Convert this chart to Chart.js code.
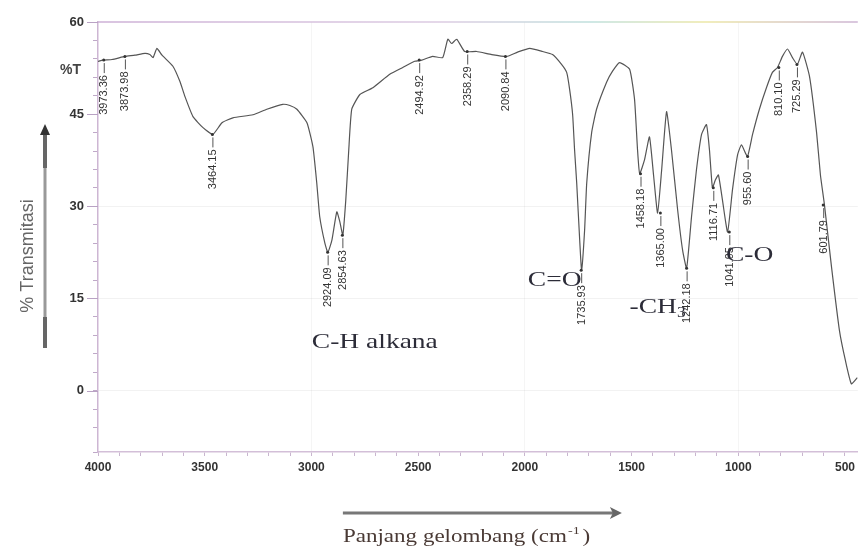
<!DOCTYPE html>
<html>
<head>
<meta charset="utf-8">
<script src="https://cdn.jsdelivr.net/npm/chart.js@4.4.0/dist/chart.umd.min.js"></script>
<style>
    html, body { margin: 0; padding: 0; background: #fff; }
    #wrap { width: 859px; height: 547px; }
</style>
</head>
<body>
<div id="wrap"><canvas id="ftir" width="859" height="547"></canvas></div>
<script>
// FTIR spectrum: wavenumber (cm-1) and %T
const wavenumbers = [
    4000, 3977, 3934, 3874, 3827, 3780, 3757, 3742, 3724, 3700,
    3649, 3616, 3593, 3555, 3508, 3462, 3419, 3368, 3274, 3209,
    3134, 3101, 3068, 3021, 2993, 2975, 2961, 2937, 2923, 2904,
    2881, 2867, 2853, 2839, 2825, 2811, 2773, 2712, 2633, 2572,
    2516, 2483, 2432, 2385, 2361, 2343, 2319, 2282, 2226, 2155,
    2085, 2034, 1977, 1917, 1870, 1828, 1804, 1790, 1776, 1767,
    1757, 1743, 1734, 1720, 1710, 1687, 1664, 1617, 1589, 1556,
    1509, 1486, 1472, 1462, 1439, 1416, 1397, 1378, 1359, 1336,
    1313, 1284, 1261, 1242, 1219, 1196, 1172, 1149, 1135, 1121,
    1107, 1093, 1074, 1050, 1027, 1003, 985, 957, 933, 901,
    868, 840, 816, 793, 769, 746, 723, 699, 666, 633,
    615, 596, 563, 526, 498, 470, 442
];
const transmittance = [
    53.6, 53.8, 53.9, 54.4, 54.6, 54.9, 54.7, 54.2, 55.7, 54.6,
    52.8, 50.3, 47.9, 44.6, 42.8, 41.7, 43.6, 44.4, 44.9, 45.8,
    46.6, 46.4, 45.8, 43.6, 39.7, 33.8, 28.3, 24.0, 22.5, 24.5,
    29.1, 27.5, 25.3, 31.0, 39.2, 45.8, 48.2, 49.3, 51.5, 52.6,
    53.6, 53.8, 54.4, 54.2, 57.2, 56.5, 57.2, 55.2, 55.2, 54.7,
    54.4, 55.1, 55.7, 55.2, 54.7, 53.1, 51.8, 49.0, 44.9, 39.2,
    33.8, 24.5, 19.6, 26.1, 33.8, 42.0, 45.8, 50.2, 52.0, 53.4,
    52.3, 47.4, 39.2, 35.3, 37.6, 41.3, 35.1, 28.9, 35.9, 45.4,
    39.2, 29.4, 22.9, 19.9, 28.3, 35.9, 41.7, 43.3, 39.2, 33.0,
    34.3, 35.1, 31.0, 25.8, 32.7, 38.4, 40.0, 38.1, 41.7, 45.8,
    49.3, 51.8, 52.6, 54.4, 55.6, 54.2, 53.1, 55.1, 51.1, 42.0,
    35.1, 30.2, 20.1, 9.8, 4.9, 1.1, 2.1
];

// peak labels printed along the spectrum
const peakLabels = [
    '3973.36', '3873.98', '3464.15', '2924.09', '2854.63', '2494.92',
    '2358.29', '2090.84', '1735.93', '1458.18', '1365.00', '1242.18',
    '1116.71', '1041.95', '955.60', '810.10', '725.29', '601.79'
];
const peakWavenumbers = [
    3973, 3874, 3464, 2924, 2855, 2495,
    2270, 2091, 1736, 1458, 1365, 1242,
    1117, 1042, 956, 810, 725, 602
];
const peakTransmittance = [
    53.8, 54.4, 41.7, 22.5, 25.3, 53.8,
    55.2, 54.4, 19.6, 35.3, 28.9, 19.9,
    33.0, 25.8, 38.1, 52.6, 53.1, 30.2
];

// band assignments written on the chart
const bandNames = ['C-H alkana', 'C=O', '-CH', 'C-O'];
const bandSubscripts = ['', '', '3', ''];
const bandWavenumbers = [2703, 1860, 1378, 947];
const bandTransmittance = [7.8, 18.0, 13.6, 22.0];

const xTickLabels = [4000, 3500, 3000, 2500, 2000, 1500, 1000, 500];
const yTickLabels = [0, 15, 30, 45, 60];

const xTitle = 'Panjang gelombang (cm';
const xTitleSup = '-1';
const yTitle = '% Transmitasi';
const yUnit = '%T';

const serif = '"Liberation Serif", "DejaVu Serif", serif';
const sans = '"Liberation Sans", Arial, sans-serif';

// peak labels, band names, titles and arrows
const decorPlugin = {
    id: 'decor',
    afterDatasetsDraw(chart) {
        const ctx = chart.ctx;
        const xs = chart.scales.x;
        const ys = chart.scales.y;
        const area = chart.chartArea;

        // coloured top frame
        const grad = ctx.createLinearGradient(area.left, 0, area.right, 0);
        grad.addColorStop(0, '#cdb0d6');
        grad.addColorStop(0.45, '#dccbe2');
        grad.addColorStop(0.65, '#bfe0dc');
        grad.addColorStop(0.8, '#ece7a6');
        grad.addColorStop(1, '#cdb4d4');
        ctx.save();
        ctx.strokeStyle = grad;
        ctx.lineWidth = 1.5;
        ctx.beginPath();
        ctx.moveTo(area.left, area.top);
        ctx.lineTo(area.right, area.top);
        ctx.stroke();
        ctx.restore();

        // longer marks on the labelled y ticks
        ctx.save();
        ctx.strokeStyle = '#b9a2c4';
        ctx.lineWidth = 1;
        yTickLabels.forEach(v => {
            const py = Math.round(ys.getPixelForValue(v)) + 0.5;
            ctx.beginPath();
            ctx.moveTo(area.left - 11, py);
            ctx.lineTo(area.left, py);
            ctx.stroke();
        });
        ctx.restore();

        // peak labels
        ctx.save();
        ctx.font = '11px ' + sans;
        ctx.fillStyle = '#333';
        ctx.strokeStyle = '#555';
        ctx.lineWidth = 1;
        peakLabels.forEach((label, i) => {
            const px = xs.getPixelForValue(peakWavenumbers[i]);
            const py = ys.getPixelForValue(peakTransmittance[i]);
            ctx.beginPath();
            ctx.arc(px, py, 1.5, 0, Math.PI * 2);
            ctx.fill();
            ctx.beginPath();
            ctx.moveTo(px + 0.5, py + 3);
            ctx.lineTo(px + 0.5, py + 13);
            ctx.stroke();
            ctx.save();
            ctx.translate(px + 0.5, py + 15);
            ctx.rotate(-Math.PI / 2);
            ctx.textAlign = 'right';
            ctx.textBaseline = 'middle';
            ctx.fillText(label, 0, 0);
            ctx.restore();
        });
        ctx.restore();

        // band names
        ctx.save();
        ctx.fillStyle = '#2c2c38';
        bandNames.forEach((name, i) => {
            const px = xs.getPixelForValue(bandWavenumbers[i]);
            const py = ys.getPixelForValue(bandTransmittance[i]);
            ctx.save();
            ctx.translate(px, py);
            ctx.scale(1.25, 1);
            ctx.font = '22px ' + serif;
            const w = ctx.measureText(name).width;
            ctx.font = '14px ' + serif;
            const sw = bandSubscripts[i] ? ctx.measureText(bandSubscripts[i]).width : 0;
            const left = -(w + sw) / 2;
            ctx.font = '22px ' + serif;
            ctx.textBaseline = 'middle';
            ctx.textAlign = 'left';
            ctx.fillText(name, left, 0);
            if (bandSubscripts[i]) {
                ctx.font = '14px ' + serif;
                ctx.fillText(bandSubscripts[i], left + w, 6);
            }
            ctx.restore();
        });
        ctx.restore();

        // x title with arrow
        const cx = (area.left + area.right) / 2;
        ctx.save();
        ctx.strokeStyle = '#777';
        ctx.fillStyle = '#666';
        ctx.lineWidth = 3;
        ctx.beginPath();
        ctx.moveTo(cx - 135, area.bottom + 61);
        ctx.lineTo(cx + 136, area.bottom + 61);
        ctx.stroke();
        ctx.beginPath();
        ctx.moveTo(cx + 144, area.bottom + 61);
        ctx.lineTo(cx + 132, area.bottom + 55);
        ctx.lineTo(cx + 135, area.bottom + 61);
        ctx.lineTo(cx + 132, area.bottom + 67);
        ctx.closePath();
        ctx.fill();

        ctx.translate(cx - 135, area.bottom + 85);
        ctx.scale(1.28, 1);
        ctx.fillStyle = '#4a3a35';
        ctx.textBaseline = 'middle';
        ctx.textAlign = 'left';
        ctx.font = '18px ' + serif;
        ctx.fillText(xTitle, 0, 0);
        const tw = ctx.measureText(xTitle).width;
        ctx.font = '11px ' + serif;
        ctx.fillText(xTitleSup, tw + 1, -6);
        const sw = ctx.measureText(xTitleSup).width;
        ctx.font = '18px ' + serif;
        ctx.fillText(')', tw + sw + 3, 0);
        ctx.restore();

        // y title with arrow
        ctx.save();
        ctx.strokeStyle = '#999';
        ctx.lineWidth = 3;
        ctx.beginPath();
        ctx.moveTo(45, 348);
        ctx.lineTo(45, 134);
        ctx.stroke();
        ctx.strokeStyle = '#666';
        ctx.lineWidth = 4;
        ctx.beginPath();
        ctx.moveTo(45, 317);
        ctx.lineTo(45, 348);
        ctx.moveTo(45, 134);
        ctx.lineTo(45, 168);
        ctx.stroke();
        ctx.fillStyle = '#333';
        ctx.beginPath();
        ctx.moveTo(45, 124);
        ctx.lineTo(40, 135);
        ctx.lineTo(50, 135);
        ctx.closePath();
        ctx.fill();

        ctx.translate(28, 256);
        ctx.rotate(-Math.PI / 2);
        ctx.fillStyle = '#666';
        ctx.font = '18px ' + sans;
        ctx.textAlign = 'center';
        ctx.textBaseline = 'middle';
        ctx.fillText(yTitle, 0, 0);
        ctx.restore();

        ctx.save();
        ctx.fillStyle = '#444';
        ctx.font = 'bold 14px ' + sans;
        ctx.textAlign = 'right';
        ctx.textBaseline = 'middle';
        ctx.fillText(yUnit, area.left - 17, area.top + 48);
        ctx.restore();
    }
};

new Chart(document.getElementById('ftir'), {
    type: 'line',
    data: {
        datasets: [{
            data: wavenumbers.map((wn, i) => ({x: wn, y: transmittance[i]})),
            borderColor: '#555',
            borderWidth: 1.2,
            pointRadius: 0,
            tension: 0.15,
            fill: false
        }]
    },
    options: {
        responsive: false,
        animation: false,
        layout: {padding: {left: 0, top: 22, right: 1, bottom: 0}},
        plugins: {
            legend: {display: false},
            tooltip: {enabled: false}
        },
        scales: {
            x: {
                type: 'linear',
                reverse: true,
                min: 440,
                max: 4000,
                afterFit: scale => { scale.height = 95; },
                border: {color: '#d3bfd8', width: 1.5},
                grid: {
                    color: ctx => (ctx.tick && [3000, 2000, 1000].includes(ctx.tick.value)) ? 'rgba(170,170,170,0.12)' : 'rgba(0,0,0,0)',
                    tickColor: '#c9b6cf',
                    tickLength: 4
                },
                ticks: {
                    stepSize: 100,
                    includeBounds: false,
                    autoSkip: false,
                    maxRotation: 0,
                    padding: 4,
                    color: '#333',
                    font: {family: sans, size: 12, weight: 'bold'},
                    callback: value => xTickLabels.includes(value) ? String(value) : ''
                }
            },
            y: {
                min: -10,
                max: 60,
                afterFit: scale => { scale.width = 98; },
                border: {color: '#cdb6d3', width: 1.5},
                grid: {
                    color: ctx => (ctx.tick && [0, 15, 30].includes(ctx.tick.value)) ? 'rgba(170,170,170,0.15)' : 'rgba(0,0,0,0)',
                    tickColor: '#bfa9c8',
                    tickLength: 5
                },
                ticks: {
                    stepSize: 3,
                    autoSkip: false,
                    padding: 9,
                    color: '#333',
                    font: {family: sans, size: 13, weight: 'bold'},
                    callback: value => yTickLabels.includes(value) ? String(value) : ''
                }
            }
        }
    },
    plugins: [decorPlugin]
});
</script>
</body>
</html>
